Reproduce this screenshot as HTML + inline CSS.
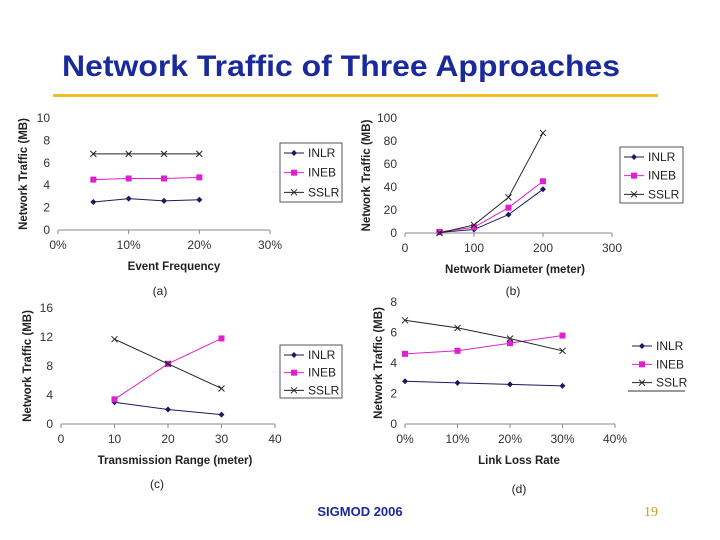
<!DOCTYPE html>
<html><head><meta charset="utf-8"><style>
body{margin:0;width:720px;height:540px;background:#fff;overflow:hidden;font-family:"Liberation Sans",sans-serif}
svg{position:absolute;left:0;top:0}
</style></head><body>
<svg width="720" height="540" id="s">
<text x="62" y="76" font-size="30" font-weight="bold" fill="#1a2a9c" textLength="558" lengthAdjust="spacingAndGlyphs">Network Traffic of Three Approaches</text>
<rect x="53" y="94" width="605" height="3" fill="#f0c020"/>
<text x="360" y="516" font-size="13" text-anchor="middle" fill="#1a2a9c" font-weight="bold">SIGMOD 2006</text>
<text x="651" y="516" font-size="14" text-anchor="middle" fill="#c8a020" font-family="Liberation Serif,serif">19</text>
</svg>
<script>
const aX=[0.05,0.10,0.15,0.20], aINLR=[2.5,2.8,2.6,2.7], aINEB=[4.5,4.6,4.6,4.7], aSSLR=[6.8,6.8,6.8,6.8];
const aXT=["0%","10%","20%","30%"], aYT=["0","2","4","6","8","10"];
const bX=[50,100,150,200], bINLR=[0.5,3,16,38], bINEB=[1,5,22,45], bSSLR=[0,7,31,87];
const bXT=["0","100","200","300"], bYT=["0","20","40","60","80","100"];
const cX=[10,20,30], cINLR=[3,2,1.3], cINEB=[3.4,8.3,11.8], cSSLR=[11.7,8.3,4.9];
const cXT=["0","10","20","30","40"], cYT=["0","4","8","12","16"];
const dX=[0,0.1,0.2,0.3], dINLR=[2.8,2.7,2.6,2.5], dINEB=[4.6,4.8,5.3,5.8], dSSLR=[6.8,6.3,5.6,4.8];
const dXT=["0%","10%","20%","30%","40%"], dYT=["0","2","4","6","8"];
const NS="http://www.w3.org/2000/svg", S=document.getElementById('s');
function el(t,a,p){const e=document.createElementNS(NS,t);for(const k in a)e.setAttribute(k,a[k]);(p||S).appendChild(e);return e;}
function marker(g,kind,x,y,col){
  if(kind==='d'){const m=el('path',{d:`M${x} ${y-3}L${x+3} ${y}L${x} ${y+3}L${x-3} ${y}Z`,fill:col},g);}
  else if(kind==='s'){const m=el('rect',{x:x-3,y:y-3,width:6,height:6,fill:col},g);}
  else {const m=el('path',{d:`M${x-3} ${y-3}L${x+3} ${y+3}M${x-3} ${y+3}L${x+3} ${y-3}`,stroke:col,'stroke-width':1},g);}
}
function chart(o){
  const g=el('g',{});
  
  
  const sx=v=>o.x0+(v-o.xmin)/(o.xmax-o.xmin)*(o.x1-o.x0);
  const sy=v=>o.y0-(v-o.ymin)/(o.ymax-o.ymin)*(o.y0-o.y1);
  const ax=el('line',{x1:o.x0,y1:o.y0,x2:o.x1,y2:o.y0,stroke:'#888'},g);
  
  o.xt.forEach((t,i)=>{const xx=o.x0+i*(o.x1-o.x0)/(o.xt.length-1);
    el('line',{x1:xx,y1:o.y0,x2:xx,y2:o.y0+4,stroke:'#888'},g);
    const tx=el('text',{x:xx,y:o.y0+19,'font-size':12,'text-anchor':'middle',fill:'#333'},g);tx.textContent=t;
    });
  o.yt.forEach((t,i)=>{const yy=o.y0-i*(o.y0-o.y1)/(o.yt.length-1);
    const tx=el('text',{x:o.x0-8,y:yy+4,'font-size':12,'text-anchor':'end',fill:'#333'},g);tx.textContent=t;
    });
  const xt=el('text',{x:o.xtx,y:o.y0+40,'font-size':11.5,'font-weight':'bold','text-anchor':'middle',fill:'#222'},g);xt.textContent=o.xtitle;
  
  const yc=(o.y0+o.y1)/2;
  const yt=el('text',{x:o.ytx,y:yc,'font-size':11.5,'font-weight':'bold','text-anchor':'middle',fill:'#222',transform:`rotate(-90 ${o.ytx} ${yc})`},g);yt.textContent='Network Traffic (MB)';
  
  const cap=el('text',{x:o.cap[0],y:o.cap[1],'font-size':12,'text-anchor':'middle',fill:'#222'},g);cap.textContent=o.capt;
  
  const ser=[['INLR',o.s[0],'#1a1a5e','d'],['INEB',o.s[1],'#e020d0','s'],['SSLR',o.s[2],'#222','x']];
  ser.forEach(([n,vals,col,k])=>{
    const pts=o.xs.map((v,i)=>sx(v)+','+sy(vals[i])).join(' ');
    const pl=el('polyline',{points:pts,fill:'none',stroke:col,'stroke-width':1},g);
    
    o.xs.forEach((v,i)=>marker(g,k,sx(v),sy(vals[i]),col));
  });
  const L=o.leg;
  if(L.box){const r=el('rect',{x:L.x,y:L.y,width:L.w,height:L.h,fill:'none',stroke:'#555'},g);}
  else {el('line',{x1:L.x,y1:L.y+L.h,x2:L.x+L.w,y2:L.y+L.h,stroke:'#333'},g);}
  ser.forEach(([n,v,col,k],i)=>{const yy=L.y+10+i*L.h/3;
    el('line',{x1:L.x+4,y1:yy,x2:L.x+24,y2:yy,stroke:col},g);marker(g,k,L.x+14,yy,col);
    const t=el('text',{x:L.x+28,y:yy+4,'font-size':12,fill:'#222'},g);t.textContent=n;
    });
}
chart({name:'chart-a',x0:58,x1:270,y0:230,y1:118,xmin:0,xmax:0.3,ymin:0,ymax:10,xt:aXT,yt:aYT,xs:aX,s:[aINLR,aINEB,aSSLR],xtitle:'Event Frequency',xtx:174,ytx:27,cap:[160,295],capt:'(a)',leg:{box:true,x:280,y:143,w:62,h:59}});
chart({name:'chart-b',x0:405,x1:612,y0:233,y1:118,xmin:0,xmax:300,ymin:0,ymax:100,xt:bXT,yt:bYT,xs:bX,s:[bINLR,bINEB,bSSLR],xtitle:'Network Diameter (meter)',xtx:515,ytx:370,cap:[513,295],capt:'(b)',leg:{box:true,x:620,y:147,w:63,h:56}});
chart({name:'chart-c',x0:61,x1:275,y0:424,y1:308,xmin:0,xmax:40,ymin:0,ymax:16,xt:cXT,yt:cYT,xs:cX,s:[cINLR,cINEB,cSSLR],xtitle:'Transmission Range (meter)',xtx:175,ytx:31,cap:[157,488],capt:'(c)',leg:{box:true,x:280,y:345,w:62,h:53}});
chart({name:'chart-d',x0:405,x1:615,y0:424,y1:302,xmin:0,xmax:0.4,ymin:0,ymax:8,xt:dXT,yt:dYT,xs:dX,s:[dINLR,dINEB,dSSLR],xtitle:'Link Loss Rate',xtx:519,ytx:382,cap:[519,493],capt:'(d)',leg:{box:false,x:628,y:336,w:57,h:55}});
</script>
</body></html>
